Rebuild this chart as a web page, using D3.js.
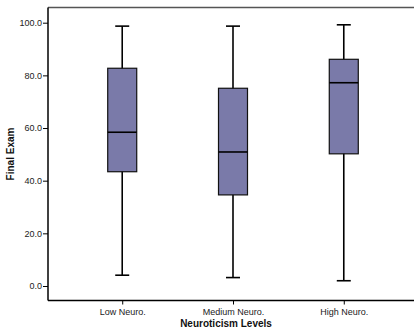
<!DOCTYPE html>
<html>
<head>
<meta charset="utf-8">
<script src="https://cdn.jsdelivr.net/npm/d3@7"></script>
<style>
  html, body { margin: 0; padding: 0; background: #fff; overflow: hidden; }
  svg { display: block; font-family: "Liberation Sans", Arial, sans-serif; }
</style>
</head>
<body>
<div id="draw"></div>
<script>
var W = 414, H = 331;

// data
var categories = ['Low Neuro.', 'Medium Neuro.', 'High Neuro.'];
var mins    = [4.1, 3.2, 2.0];
var q1s     = [43.4, 34.6, 50.2];
var medians = [58.4, 50.9, 77.2];
var q3s     = [82.7, 75.1, 86.1];
var maxs    = [98.7, 98.7, 99.2];
var yTicks  = [0, 20, 40, 60, 80, 100];

// plot frame (right side runs off the picture)
var plotL = 48, plotR = 418, plotT = 7.5, plotB = 300.5;
var boxW = 29, capW = 14;

var svg = d3.select('#draw').append('svg')
  .attr('width', W)
  .attr('height', H);

var x = d3.scalePoint()
  .domain(categories)
  .range([plotL, plotR])
  .padding(0.67);

var y = d3.scaleLinear()
  .domain([0, 100])
  .range([286, 22.7]);

// frame top (grey)
svg.append('line')
  .attr('x1', plotL).attr('x2', W)
  .attr('y1', plotT).attr('y2', plotT)
  .attr('stroke', '#555').attr('stroke-width', 1.5);

// y axis
var yAxis = d3.axisLeft(y)
  .tickValues(yTicks)
  .tickSize(5)
  .tickPadding(1)
  .tickFormat(d3.format('.1f'));

var gy = svg.append('g')
  .attr('transform', 'translate(' + plotL + ',0)')
  .call(yAxis);
gy.select('.domain').remove();
gy.selectAll('.tick line').attr('stroke', '#000');
gy.selectAll('.tick text')
  .attr('font-size', 9)
  .attr('fill', '#222')
  .attr('font-family', '"Liberation Sans", Arial, sans-serif');

svg.append('line')
  .attr('x1', plotL).attr('x2', plotL)
  .attr('y1', plotT).attr('y2', plotB)
  .attr('stroke', '#000').attr('stroke-width', 1.5);

// x axis
var xAxis = d3.axisBottom(x)
  .tickSize(4)
  .tickPadding(4);

var gx = svg.append('g')
  .attr('transform', 'translate(0,' + plotB + ')')
  .call(xAxis);
gx.select('.domain').remove();
gx.selectAll('.tick line').attr('stroke', '#000');
gx.selectAll('.tick text')
  .attr('font-size', 9)
  .attr('fill', '#222')
  .attr('font-family', '"Liberation Sans", Arial, sans-serif');

svg.append('line')
  .attr('x1', plotL).attr('x2', W)
  .attr('y1', plotB).attr('y2', plotB)
  .attr('stroke', '#000').attr('stroke-width', 1.5);

// boxes
var boxes = svg.selectAll('g.box')
  .data(categories)
  .enter().append('g')
  .attr('class', 'box');

// whiskers
boxes.append('line')
  .attr('x1', function(d) { return x(d); })
  .attr('x2', function(d) { return x(d); })
  .attr('y1', function(d, i) { return y(maxs[i]); })
  .attr('y2', function(d, i) { return y(mins[i]); })
  .attr('stroke', '#000').attr('stroke-width', 1.6);

// caps
boxes.append('line')
  .attr('x1', function(d) { return x(d) - capW / 2; })
  .attr('x2', function(d) { return x(d) + capW / 2; })
  .attr('y1', function(d, i) { return y(maxs[i]); })
  .attr('y2', function(d, i) { return y(maxs[i]); })
  .attr('stroke', '#000').attr('stroke-width', 1.6);
boxes.append('line')
  .attr('x1', function(d) { return x(d) - capW / 2; })
  .attr('x2', function(d) { return x(d) + capW / 2; })
  .attr('y1', function(d, i) { return y(mins[i]); })
  .attr('y2', function(d, i) { return y(mins[i]); })
  .attr('stroke', '#000').attr('stroke-width', 1.6);

// the box itself
boxes.append('rect')
  .attr('x', function(d) { return x(d) - boxW / 2; })
  .attr('width', boxW)
  .attr('y', function(d, i) { return y(q3s[i]); })
  .attr('height', function(d, i) { return y(q1s[i]) - y(q3s[i]); })
  .attr('fill', '#7a7aa9')
  .attr('stroke', '#111').attr('stroke-width', 1.2);

// median
boxes.append('line')
  .attr('x1', function(d) { return x(d) - boxW / 2; })
  .attr('x2', function(d) { return x(d) + boxW / 2; })
  .attr('y1', function(d, i) { return y(medians[i]); })
  .attr('y2', function(d, i) { return y(medians[i]); })
  .attr('stroke', '#000').attr('stroke-width', 1.6);

// axis titles
svg.append('text')
  .attr('x', 226)
  .attr('y', 327)
  .attr('text-anchor', 'middle')
  .attr('font-size', 10)
  .attr('font-weight', 'bold')
  .attr('fill', '#111')
  .text('Neuroticism Levels');

svg.append('text')
  .attr('transform', 'translate(14,' + ((plotT + plotB) / 2) + ') rotate(-90)')
  .attr('text-anchor', 'middle')
  .attr('font-size', 10)
  .attr('font-weight', 'bold')
  .attr('fill', '#111')
  .text('Final Exam');
</script>
</body>
</html>
